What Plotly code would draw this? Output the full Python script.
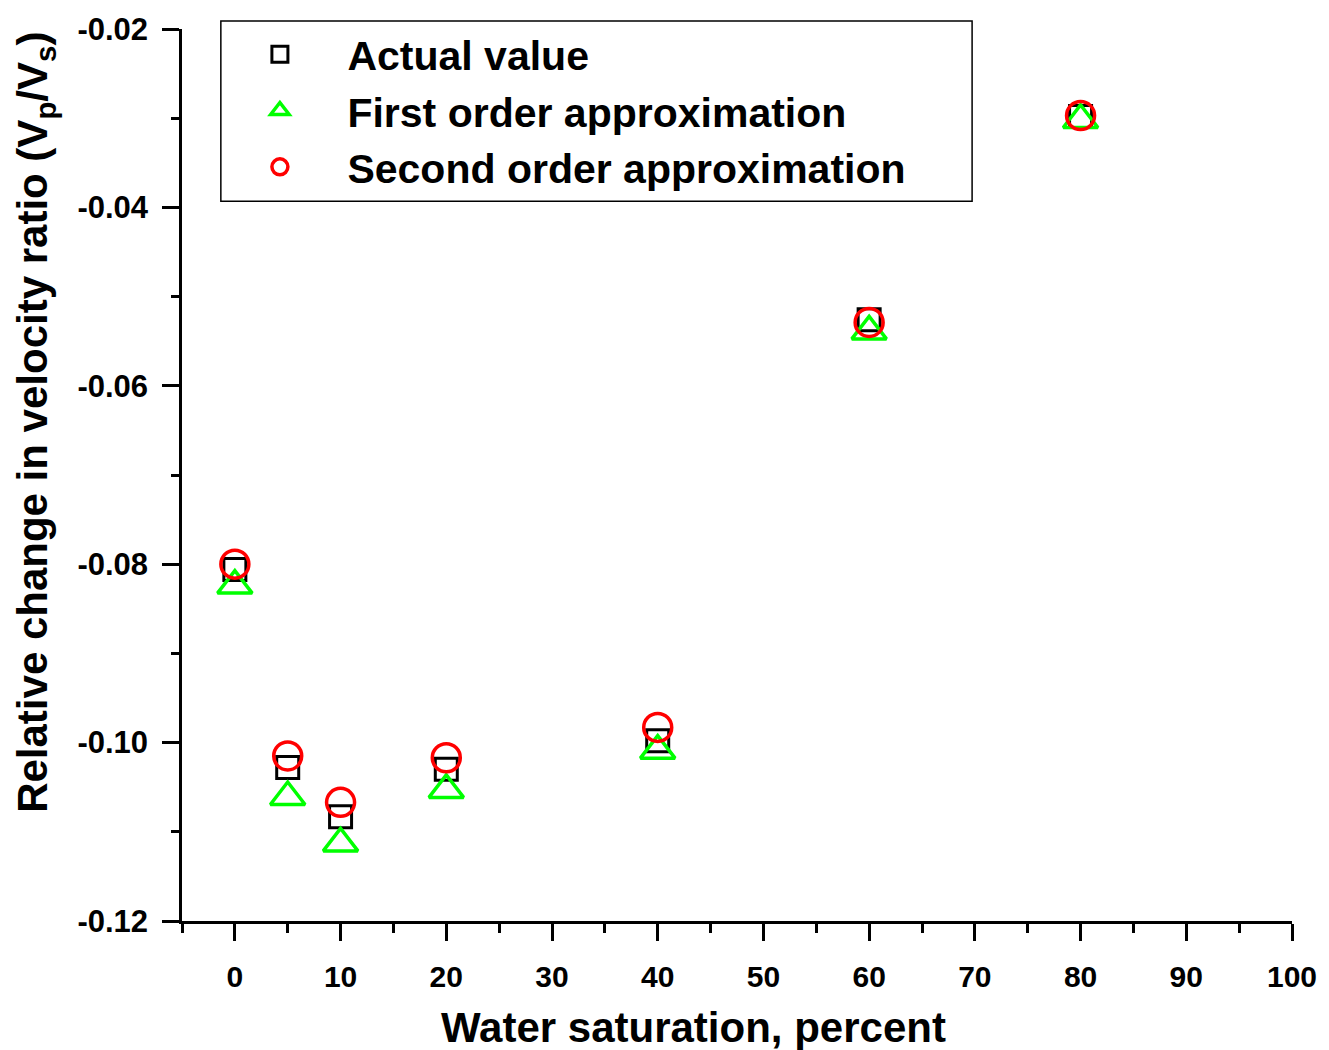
import plotly.graph_objects as go

water_sat = [0, 5, 10, 20, 40, 60, 80]
actual_value = [-0.0806, -0.1028, -0.1083, -0.1030, -0.0998, -0.0526, -0.0298]
first_order = [-0.0824, -0.1061, -0.1113, -0.1053, -0.1009, -0.0539, -0.0302]
second_order = [-0.0800, -0.1015, -0.1067, -0.1017, -0.0983, -0.0529, -0.0297]

x_tick_vals = [0, 10, 20, 30, 40, 50, 60, 70, 80, 90, 100]
x_tick_text = ["0", "10", "20", "30", "40", "50", "60", "70", "80", "90", "100"]
y_tick_vals = [-0.12, -0.10, -0.08, -0.06, -0.04, -0.02]
y_tick_text = ["-0.12", "-0.10", "-0.08", "-0.06", "-0.04", "-0.02"]

FONT = "Liberation Sans, Arial, sans-serif"

fig = go.Figure()
fig.add_trace(go.Scatter(
    x=water_sat, y=actual_value, mode="markers", name="<b>Actual value</b>",
    marker=dict(symbol="square-open", size=22, color="black", line=dict(width=3, color="black")),
))
fig.add_trace(go.Scatter(
    x=water_sat, y=first_order, mode="markers", name="<b>First order approximation</b>",
    marker=dict(symbol="triangle-up-open", size=30, color="#00FF00", line=dict(width=3.5, color="#00FF00")),
))
fig.add_trace(go.Scatter(
    x=water_sat, y=second_order, mode="markers", name="<b>Second order approximation</b>",
    marker=dict(symbol="circle-open", size=28, color="#FF0000", line=dict(width=3.5, color="#FF0000")),
))

fig.update_layout(
    width=1329, height=1050,
    margin=dict(l=182, r=33, t=25, b=129),
    plot_bgcolor="white", paper_bgcolor="white",
    font=dict(family=FONT, color="black"),
    showlegend=True,
    legend=dict(
        x=0.0364, y=1.0089, xanchor="left", yanchor="top",
        bgcolor="rgba(0,0,0,0)", borderwidth=0,
        font=dict(size=41, family=FONT, color="black"),
        itemwidth=125, indentation=-10, tracegroupgap=0,
    ),
    shapes=[
        dict(type="rect", xref="paper", yref="paper",
             x0=0.035, x1=0.7118, y0=0.8069, y1=1.0089,
             line=dict(color="black", width=1.5), fillcolor="white", layer="below"),
    ],
    xaxis=dict(
        range=[-5, 100], showgrid=False, zeroline=False,
        showline=True, linecolor="black", linewidth=2.5,
        ticks="outside", ticklen=17, tickwidth=2.5, tickcolor="black",
        tickvals=x_tick_vals, ticktext=x_tick_text,
        tickfont=dict(size=30, family=FONT, color="black", weight="bold"),
        ticklabelstandoff=10,
        minor=dict(ticks="outside", ticklen=9, tickwidth=2.5, tickcolor="black", dtick=5, tick0=-5),
    ),
    yaxis=dict(
        range=[-0.12, -0.02], showgrid=False, zeroline=False,
        showline=True, linecolor="black", linewidth=2.5,
        ticks="outside", ticklen=17, tickwidth=2.5, tickcolor="black",
        tickvals=y_tick_vals, ticktext=y_tick_text,
        tickfont=dict(size=31, family=FONT, color="black", weight="bold"),
        ticklabelstandoff=8,
        minor=dict(ticks="outside", ticklen=8, tickwidth=2.5, tickcolor="black", dtick=0.01, tick0=-0.12),
    ),
    annotations=[
        dict(text="<b>Water saturation, percent</b>", xref="paper", yref="paper",
             x=0.4605, y=-0.1194, xanchor="center", yanchor="middle", showarrow=False,
             font=dict(size=42, family=FONT, color="black")),
        dict(text="<b>Relative change in velocity ratio (V<sub>p</sub>/V<sub>s</sub>)</b>",
             xref="paper", yref="paper", x=-0.132, y=0.559, xanchor="center", yanchor="middle",
             textangle=-90, showarrow=False,
             font=dict(size=42, family=FONT, color="black")),
    ],
)

fig.write_html("out.html", config={"displayModeBar": False},
               post_script="document.body.style.margin='0';document.body.style.overflow='hidden';")
